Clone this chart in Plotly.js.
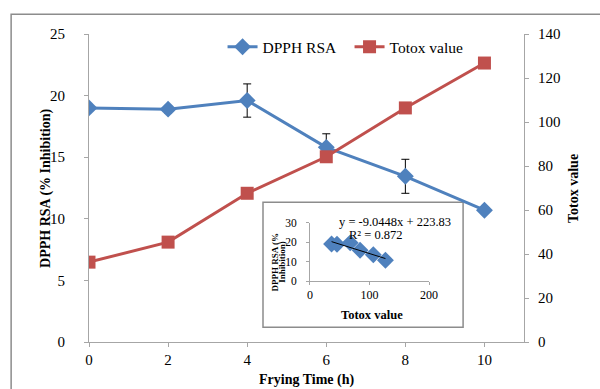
<!DOCTYPE html>
<html>
<head>
<meta charset="utf-8">
<script src="https://cdn.plot.ly/plotly-3.0.1.min.js"></script>
<style>html,body{margin:0;padding:0;background:#fff;}#chart{width:600px;height:389px;}</style>
</head>
<body>
<div id="chart"></div>
<script>
// Data
const fryingTime = [0, 2, 4, 6, 8, 10];
const dpphRSA = [19.0, 18.9, 19.6, 15.8, 13.45, 10.7];
const dpphErr = [0.2, 0.3, 1.35, 1.1, 1.38, 0.2];
const totoxValue = [36.3, 45.4, 67.6, 84.2, 106.4, 126.8];
const xTicks = [0, 2, 4, 6, 8, 10];
const leftTicks = [0, 5, 10, 15, 20, 25];
const rightTicks = [0, 20, 40, 60, 80, 100, 120, 140];
const insetXTicks = [0, 100, 200];
const insetYTicks = [0, 10, 20, 30];
const equationText = "y = -9.0448x + 223.83";
const r2Text = "R² = 0.872";

// least-squares trendline of DPPH vs Totox (inset)
function fit(xs, ys) {
  const n = xs.length;
  const mx = xs.reduce((a, b) => a + b, 0) / n;
  const my = ys.reduce((a, b) => a + b, 0) / n;
  let sxy = 0, sxx = 0;
  for (let i = 0; i < n; i++) { sxy += (xs[i] - mx) * (ys[i] - my); sxx += (xs[i] - mx) ** 2; }
  const b = sxy / sxx; return { a: my - b * mx, b: b };
}
const tl = fit(totoxValue, dpphRSA);
const tlX = [Math.min(...totoxValue), Math.max(...totoxValue)];
const tlY = tlX.map(v => tl.a + tl.b * v);

const BLUE = '#4F81BD', RED = '#C0504D', AX = '#a6a6a6';
const FONT = 'Liberation Serif';

const traces = [
  {
    x: fryingTime, y: dpphRSA, name: 'DPPH RSA', type: 'scatter', mode: 'lines+markers',
    xaxis: 'x', yaxis: 'y',
    line: { color: BLUE, width: 3 },
    marker: { symbol: 'diamond', size: 13, color: BLUE },
    error_y: { type: 'data', array: dpphErr, visible: true, color: '#000', thickness: 1, width: 4 }
  },
  {
    x: fryingTime, y: totoxValue, name: 'Totox value', type: 'scatter', mode: 'lines+markers',
    xaxis: 'x', yaxis: 'y2',
    line: { color: RED, width: 3 },
    marker: { symbol: 'square', size: 13, color: RED }
  },
  {
    x: totoxValue, y: dpphRSA, type: 'scatter', mode: 'markers', showlegend: false,
    xaxis: 'x2', yaxis: 'y3',
    marker: { symbol: 'diamond', size: 13, color: BLUE }
  },
  {
    x: tlX, y: tlY, type: 'scatter', mode: 'lines', showlegend: false,
    xaxis: 'x2', yaxis: 'y3',
    line: { color: '#000', width: 1 }
  }
];

const axisBase = {
  showline: true, linecolor: AX, linewidth: 1, ticks: 'outside', ticklen: 4, tickcolor: AX,
  showgrid: false, zeroline: false, tickfont: { family: FONT, size: 15, color: '#000' }
};

const titleFont = { family: FONT, size: 14, color: '#000' };

const layout = {
  width: 600, height: 389,
  margin: { l: 89, r: 76, t: 34, b: 47 },
  paper_bgcolor: '#fff', plot_bgcolor: 'rgba(0,0,0,0)',
  font: { family: FONT, color: '#000' },
  showlegend: true,
  legend: {
    orientation: 'h', x: 0.307, y: 0.957, xanchor: 'left', yanchor: 'middle',
    entrywidth: 82, entrywidthmode: 'pixels',
    font: { family: FONT, size: 15.5, color: '#000' }, bgcolor: 'rgba(0,0,0,0)'
  },
  xaxis: Object.assign({}, axisBase, {
    range: [0, 11], tickvals: xTicks, domain: [0, 1], anchor: 'y'
  }),
  yaxis: Object.assign({}, axisBase, {
    range: [0, 25], tickvals: leftTicks, ticklabelstandoff: 16
  }),
  yaxis2: Object.assign({}, axisBase, {
    range: [0, 140], tickvals: rightTicks, overlaying: 'y', side: 'right', anchor: 'x',
    ticklabelstandoff: 6
  }),
  xaxis2: Object.assign({}, axisBase, {
    domain: [0.508, 0.7816], range: [0, 200], tickvals: insetXTicks, anchor: 'y3', ticklen: 3,
    tickfont: { family: FONT, size: 12, color: '#000' }
  }),
  yaxis3: Object.assign({}, axisBase, {
    domain: [0.198, 0.3877], range: [0, 30], tickvals: insetYTicks, anchor: 'x2', ticklen: 3,
    ticklabelstandoff: 7,
    tickfont: { family: FONT, size: 11.5, color: '#000' }
  }),
  shapes: [
    { type: 'rect', xref: 'paper', yref: 'paper', x0: -0.179, x1: 1.4, y0: -0.3, y1: 1.064,
      line: { color: '#8c8c8c', width: 1.5 }, fillcolor: 'rgba(0,0,0,0)', layer: 'below' },
    { type: 'rect', xref: 'paper', yref: 'paper', x0: 0.40, x1: 0.86, y0: 0.0477, y1: 0.4536,
      line: { color: '#8c8c8c', width: 1.5 }, fillcolor: '#fff', layer: 'below' }
  ],
  annotations: [
    // main axis titles
    { text: '<b>Frying Time (h)</b>', xref: 'paper', yref: 'paper', x: 0.5, y: -0.124, xanchor: 'center', yanchor: 'middle',
      showarrow: false, font: titleFont },
    { text: '<b>DPPH RSA (% Inhibition)</b>', xref: 'paper', yref: 'paper', x: -0.099, y: 0.5, xanchor: 'center', yanchor: 'middle',
      textangle: -90, showarrow: false, font: titleFont },
    { text: '<b>Totox value</b>', xref: 'paper', yref: 'paper', x: 1.1126, y: 0.5, xanchor: 'center', yanchor: 'middle',
      textangle: -90, showarrow: false, font: titleFont },
    // inset texts
    { text: equationText, xref: 'paper', yref: 'paper', x: 0.569, y: 0.388, xanchor: 'left', yanchor: 'middle',
      showarrow: false, font: { family: FONT, size: 12.5, color: '#000' } },
    { text: r2Text, xref: 'paper', yref: 'paper', x: 0.592, y: 0.346, xanchor: 'left', yanchor: 'middle',
      showarrow: false, font: { family: FONT, size: 12.5, color: '#000' } },
    { text: '<b>Totox value</b>', xref: 'paper', yref: 'paper', x: 0.651, y: 0.087, xanchor: 'center', yanchor: 'middle',
      showarrow: false, font: { family: FONT, size: 12.5, color: '#000' } },
    { text: '<b>DPPH RSA (%</b>', xref: 'paper', yref: 'paper', x: 0.428, y: 0.259, xanchor: 'center', yanchor: 'middle',
      textangle: -90, showarrow: false, font: { family: FONT, size: 9, color: '#000' } },
    { text: '<b>Inhibition)</b>', xref: 'paper', yref: 'paper', x: 0.445, y: 0.259, xanchor: 'center', yanchor: 'middle',
      textangle: -90, showarrow: false, font: { family: FONT, size: 9, color: '#000' } }
  ]
};

Plotly.newPlot('chart', traces, layout, { displayModeBar: false, staticPlot: true });
</script>
</body>
</html>
